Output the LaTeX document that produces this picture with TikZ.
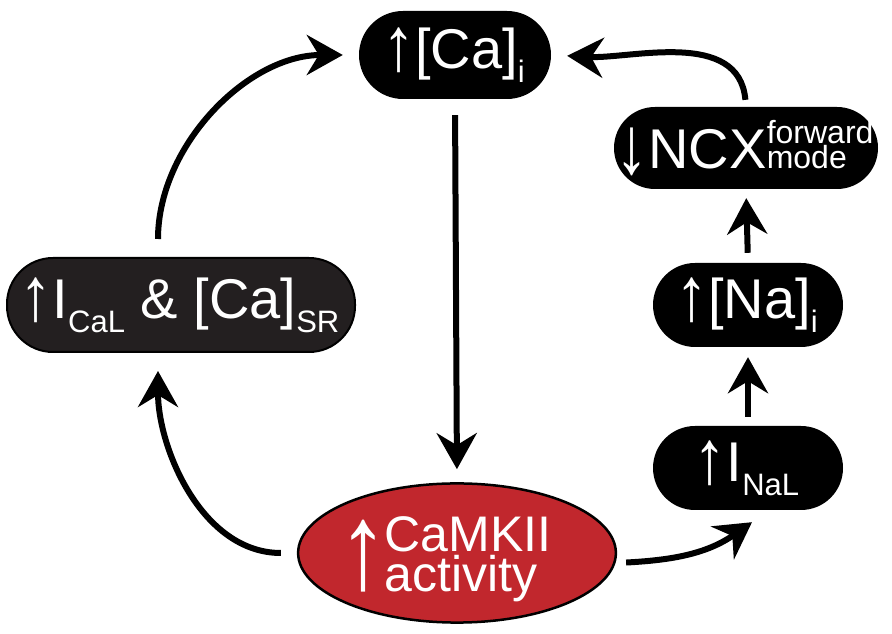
\documentclass[tikz,border=0pt]{standalone}
\usepackage{fontspec}
\usepackage{graphicx}
\setmainfont{Liberation Sans}
\usetikzlibrary{arrows.meta,shapes.geometric}
\definecolor{camkred}{HTML}{C1272D}
\definecolor{boxgray}{HTML}{231F20}
\newsavebox{\arrowbox}
\newcommand{\tallarrow}[4]{\sbox{\arrowbox}{\resizebox*{#2}{#3}{#1}}\raisebox{\dimexpr#4+\dp\arrowbox\relax}{\usebox{\arrowbox}}}
\newcommand{\incr}{\kern-3pt\tallarrow{↑}{33pt}{45pt}{-4pt}}
\newcommand{\decr}{\kern-3pt\tallarrow{↓}{33pt}{48pt}{-7pt}}
\newcommand{\bigincr}{\kern-6pt\tallarrow{↑}{50pt}{72pt}{0pt}\kern-4pt}
\newcommand{\lowr}[1]{\raisebox{-14pt}{\fontsize{31}{31}\selectfont #1}}
\tikzset{
	pill/.style={rectangle, fill=black, text=white, inner sep=0pt, font=\fontsize{56}{56}\selectfont},
	flow/.style={line width=6pt, -{Stealth[length=36pt,width=40pt,inset=12pt]}},
}
\begin{document}
\begin{tikzpicture}[x=1pt,y=1pt]
	\useasboundingbox (0,0) rectangle (892,634);
	\node[pill, rounded corners=44pt, minimum width=192pt, minimum height=88pt] (ca) at (455,579) {\incr[Ca]\lowr{i}};
	\node[pill, rounded corners=41pt, minimum width=264pt, minimum height=82pt] (ncx) at (746,486) {\decr NCX\makebox[0pt][l]{\fontsize{32}{32}\selectfont mode}\raisebox{25pt}{\fontsize{32}{32}\selectfont forward}};
	\node[pill, rounded corners=42pt, minimum width=190pt, minimum height=84pt] (na) at (748,329) {\incr[Na]\lowr{i}};
	\node[pill, rounded corners=42pt, minimum width=190pt, minimum height=84pt] (inal) at (748,166) {\incr I\lowr{NaL}};
	\node[pill, fill=boxgray, draw=black, line width=2pt, rounded corners=46pt, minimum width=348pt, minimum height=94pt] (ical) at (181,329) {\incr I\lowr{CaL} \& [Ca]\lowr{SR}};
	\node[ellipse, fill=camkred, draw=black, line width=2.5pt, text=white, inner sep=0pt, minimum width=282pt, minimum height=134pt, font=\fontsize{50}{40}\selectfont] (camk) at (457,81) {\rule{0pt}{88pt}\bigincr\vbox{\baselineskip=40pt\hbox{CaMKII}\hbox{activity}}\kern18pt};
	% connectors
	\draw[flow, shorten <=16pt, shorten >=13pt] (ca.south) -- (camk.north);
	\draw[flow, shorten <=9pt, shorten >=10pt] (inal.north) -- (na.south);
	\draw[flow, shorten <=10pt, shorten >=9pt] (na.north) -- (ncx.south);
	\draw[flow, shorten <=7pt, shorten >=16pt] (ncx.north) to[out=95, in=-3] (ca.east);
	\draw[flow, shorten <=18pt, shorten >=16pt] ([xshift=-23pt]ical.north) to[out=90, in=180] (ca.west);
	\draw[flow, shorten <=16pt, shorten >=18pt] (camk.west) to[out=180, in=-90] ([xshift=-23pt]ical.south);
	\draw[flow, shorten <=9pt] ([yshift=-10pt]camk.east) to[out=3, in=-145] ([xshift=4pt,yshift=-12pt]inal.south);
\end{tikzpicture}
\end{document}
